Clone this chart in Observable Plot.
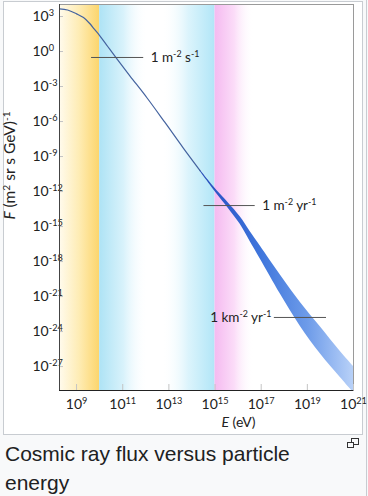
<!DOCTYPE html>
<html><head><meta charset="utf-8">
<script src="https://cdn.jsdelivr.net/npm/d3@7"></script>
<script src="https://cdn.jsdelivr.net/npm/@observablehq/plot@0.6"></script>
<style>
html,body{margin:0;padding:0;background:#f8f9fa;width:368px;height:496px;overflow:hidden;}
#thumb{position:absolute;left:0;top:0;width:367px;height:496px;border-right:1px solid #c8ccd1;box-sizing:border-box;}
#img{position:absolute;left:3px;top:1px;width:360px;height:434px;background:#fff;border:1px solid #c8ccd1;box-sizing:border-box;}
#chart{position:absolute;left:0;top:0;}
#caption{position:absolute;left:5px;top:439px;width:340px;font-family:"Liberation Sans",Arial,sans-serif;font-size:21px;line-height:29px;color:#202122;}
.mag1{position:absolute;left:351px;top:438px;width:6px;height:5px;border:1px solid #333;background:#f8f9fa;}
.mag2{position:absolute;left:347px;top:442px;width:5px;height:4px;border:1px solid #333;background:#f8f9fa;}
</style>
</head><body>
<div id="thumb"></div>
<div id="img"></div>
<div id="chart"></div>
<div id="caption">Cosmic ray flux versus particle energy</div>
<div class="mag1"></div><div class="mag2"></div>
<script>
// ---- data (log10 values) ----
const curveLogE = [8.26, 8.61, 9.0, 9.3, 9.57, 9.78, 10.0, 10.35, 10.74, 11.3, 12.04, 12.83, 13.61, 14.35];
const curveLogF = [3.66, 3.56, 3.23, 2.91, 2.40, 1.89, 1.37, 0.43, -0.60, -2.06, -3.94, -6.08, -8.23, -10.20];
const bandLogE = [14.35, 14.78, 15.09, 15.57, 16.09, 16.52, 16.96, 17.83, 18.70, 19.57, 20.43, 21.0];
const bandLogFHigh = [-10.14, -11.21, -11.94, -12.96, -14.16, -15.42, -16.67, -19.15, -21.51, -23.61, -25.71, -26.99];
const bandLogFLow = [-10.26, -11.41, -12.23, -13.43, -14.81, -16.28, -17.78, -20.78, -23.56, -25.92, -27.93, -29.22];
const xTickExp = [9, 11, 13, 15, 17, 19, 21];
const yTickExp = [3, 0, -3, -6, -9, -12, -15, -18, -21, -24, -27];
const levelLabels = ["1 m^{-2} s^{-1}", "1 m^{-2} yr^{-1}", "1 km^{-2} yr^{-1}"];
const levelLogF = [-0.51, -13.2, -22.79];
const levelLogE1 = [9.65, 14.52, 17.57];
const levelLogE2 = [11.91, 16.74, 19.83];
const regionLogE1 = [8.26, 10.0, 12.7, 15.0];
const regionLogE2 = [10.0, 12.1, 15.0, 16.7];
const regionNames = ["gYellow", "gCyan1", "gCyan2", "gPink"];
const xDomainExp = [8.26, 21];
const yDomainExp = [-29.05, 4.03];
const xLabel = "*E* (eV)";
const yLabel = "*F* (m^{2} sr s GeV)^{-1}";

// ---- tables ----
const curve = curveLogE.map((e, i) => ({E: 10 ** e, F: 10 ** curveLogF[i]}));
const band = bandLogE.map((e, i) => ({E: 10 ** e, hi: 10 ** bandLogFHigh[i], lo: 10 ** bandLogFLow[i]}));
const levels = levelLabels.map((t, i) => ({t, F: 10 ** levelLogF[i], E1: 10 ** levelLogE1[i], E2: 10 ** levelLogE2[i]}));
const regions = regionNames.map((n, i) => ({E1: 10 ** regionLogE1[i], E2: 10 ** regionLogE2[i], fill: `url(#${n})`}));
const xTicks = xTickExp.map(e => 10 ** e);
const yTicks = yTickExp.map(e => 10 ** e);
const xDomain = xDomainExp.map(e => 10 ** e);
const yDomain = yDomainExp.map(e => 10 ** e);
const fmt = d => `10^{${Math.round(Math.log10(d))}}`;

const chart = Plot.plot({
  width: 368, height: 436,
  marginLeft: 59, marginRight: 15, marginTop: 4, marginBottom: 46,
  style: {fontFamily: "Lato, 'Open Sans', sans-serif", fontSize: "13px", color: "#222", background: "transparent"},
  x: {type: "log", domain: xDomain},
  y: {type: "log", domain: yDomain},
  marks: [
    Plot.rect(regions, {x1: "E1", x2: "E2", fill: "fill"}),
    Plot.frame({stroke: "#9a9a9a"}),
    Plot.areaY(band, {x: "E", y1: "lo", y2: "hi", fill: "url(#gBand)", curve: "catmull-rom", clip: true}),
    Plot.line(curve, {x: "E", y: "F", stroke: "#44639f", strokeWidth: 1.2, curve: "catmull-rom"}),
    Plot.ruleY(levels, {y: "F", x1: "E1", x2: "E2", stroke: "#555", strokeWidth: 1}),
    Plot.text(levels.filter((d, i) => i < 2), {x: "E2", y: "F", text: "t", textAnchor: "start", dx: 7, fontSize: 13.5, fill: "#222"}),
    Plot.text(levels.filter((d, i) => i === 2), {x: "E1", y: "F", text: "t", textAnchor: "end", dx: -3, fontSize: 13.5, fill: "#222"}),
    Plot.axisY(yTicks, {anchor: "left", tickSize: 4, dx: 4, tickFormat: () => "", stroke: "#c4c4c4"}),
    Plot.axisY(yTicks, {anchor: "left", tickSize: 0, tickPadding: 3, textAnchor: "start", dx: -24, tickFormat: fmt, fontSize: 14}),
    Plot.axisX(xTicks, {anchor: "bottom", tickSize: 6, dy: -6, tickFormat: () => "", stroke: "#c4c4c4"}),
    Plot.axisX(xTicks, {anchor: "bottom", tickSize: 0, tickPadding: 9, tickFormat: fmt, fontSize: 14, label: null}),
    Plot.ruleX([xDomain[0]], {stroke: "#444"}),
    Plot.ruleY([yDomain[0]], {stroke: "#222"}),
    Plot.text([xLabel], {frameAnchor: "bottom", textAnchor: "middle", dx: 32, dy: 36, fontSize: 14, fill: "#222"}),
    Plot.text([yLabel], {frameAnchor: "left", textAnchor: "middle", dx: -49, dy: -32, rotate: -90, fontSize: 15.5, fill: "#222"})
  ]
});

document.getElementById("chart").appendChild(chart);

// gradients
const NS = "http://www.w3.org/2000/svg";
const defs = d3.select(chart).insert("defs", ":first-child");
function grad(id, stops) {
  const g = defs.append("linearGradient").attr("id", id).attr("x1", 0).attr("x2", 1).attr("y1", 0).attr("y2", 0);
  for (const [o, c, a] of stops) g.append("stop").attr("offset", o).attr("stop-color", c).attr("stop-opacity", a);
}
grad("gYellow", [[0, "#fffbee", 1], [0.5, "#feecb4", 1], [1, "#fcd56c", 1]]);
grad("gCyan1", [[0, "#aee3f5", 1], [0.5, "#d8f2fb", 1], [1, "#ffffff", 0]]);
grad("gCyan2", [[0, "#ffffff", 0], [0.5, "#dcf4fc", 1], [1, "#b2e6f7", 1]]);
grad("gPink", [[0, "#f5baf0", 1], [0.5, "#fbdcf8", 1], [1, "#ffffff", 0]]);
grad("gBand", [[0, "#2b4fb6", 1], [0.15, "#2e5acb", 1], [0.4, "#3f76dc", 1], [0.7, "#6d9be9", 1], [1, "#b8d1f8", 1]]);

// rich text: ^{..} superscript, *..* italic
d3.select(chart).selectAll("text").each(function() {
  const el = this;
  const s = el.textContent;
  if (!/[\^*]/.test(s)) return;
  const fs = parseFloat(getComputedStyle(el).fontSize) || 13;
  const sup = (fs * 0.66).toFixed(1), shift = (fs * 0.38).toFixed(1);
  const parts = s.split(/(\^\{[^}]*\}|\*[^*]*\*)/).filter(p => p !== "");
  while (el.firstChild) el.removeChild(el.firstChild);
  let raised = false;
  for (const p of parts) {
    const t = document.createElementNS(NS, "tspan");
    if (p.startsWith("^{")) {
      t.textContent = p.slice(2, -1);
      t.setAttribute("font-size", sup + "px");
      if (!raised) t.setAttribute("dy", "-" + shift);
      raised = true;
    } else {
      if (p.startsWith("*")) { t.textContent = p.slice(1, -1); t.setAttribute("font-style", "italic"); }
      else t.textContent = p;
      if (raised) t.setAttribute("dy", shift);
      raised = false;
    }
    el.appendChild(t);
  }
});
</script>
</body></html>
